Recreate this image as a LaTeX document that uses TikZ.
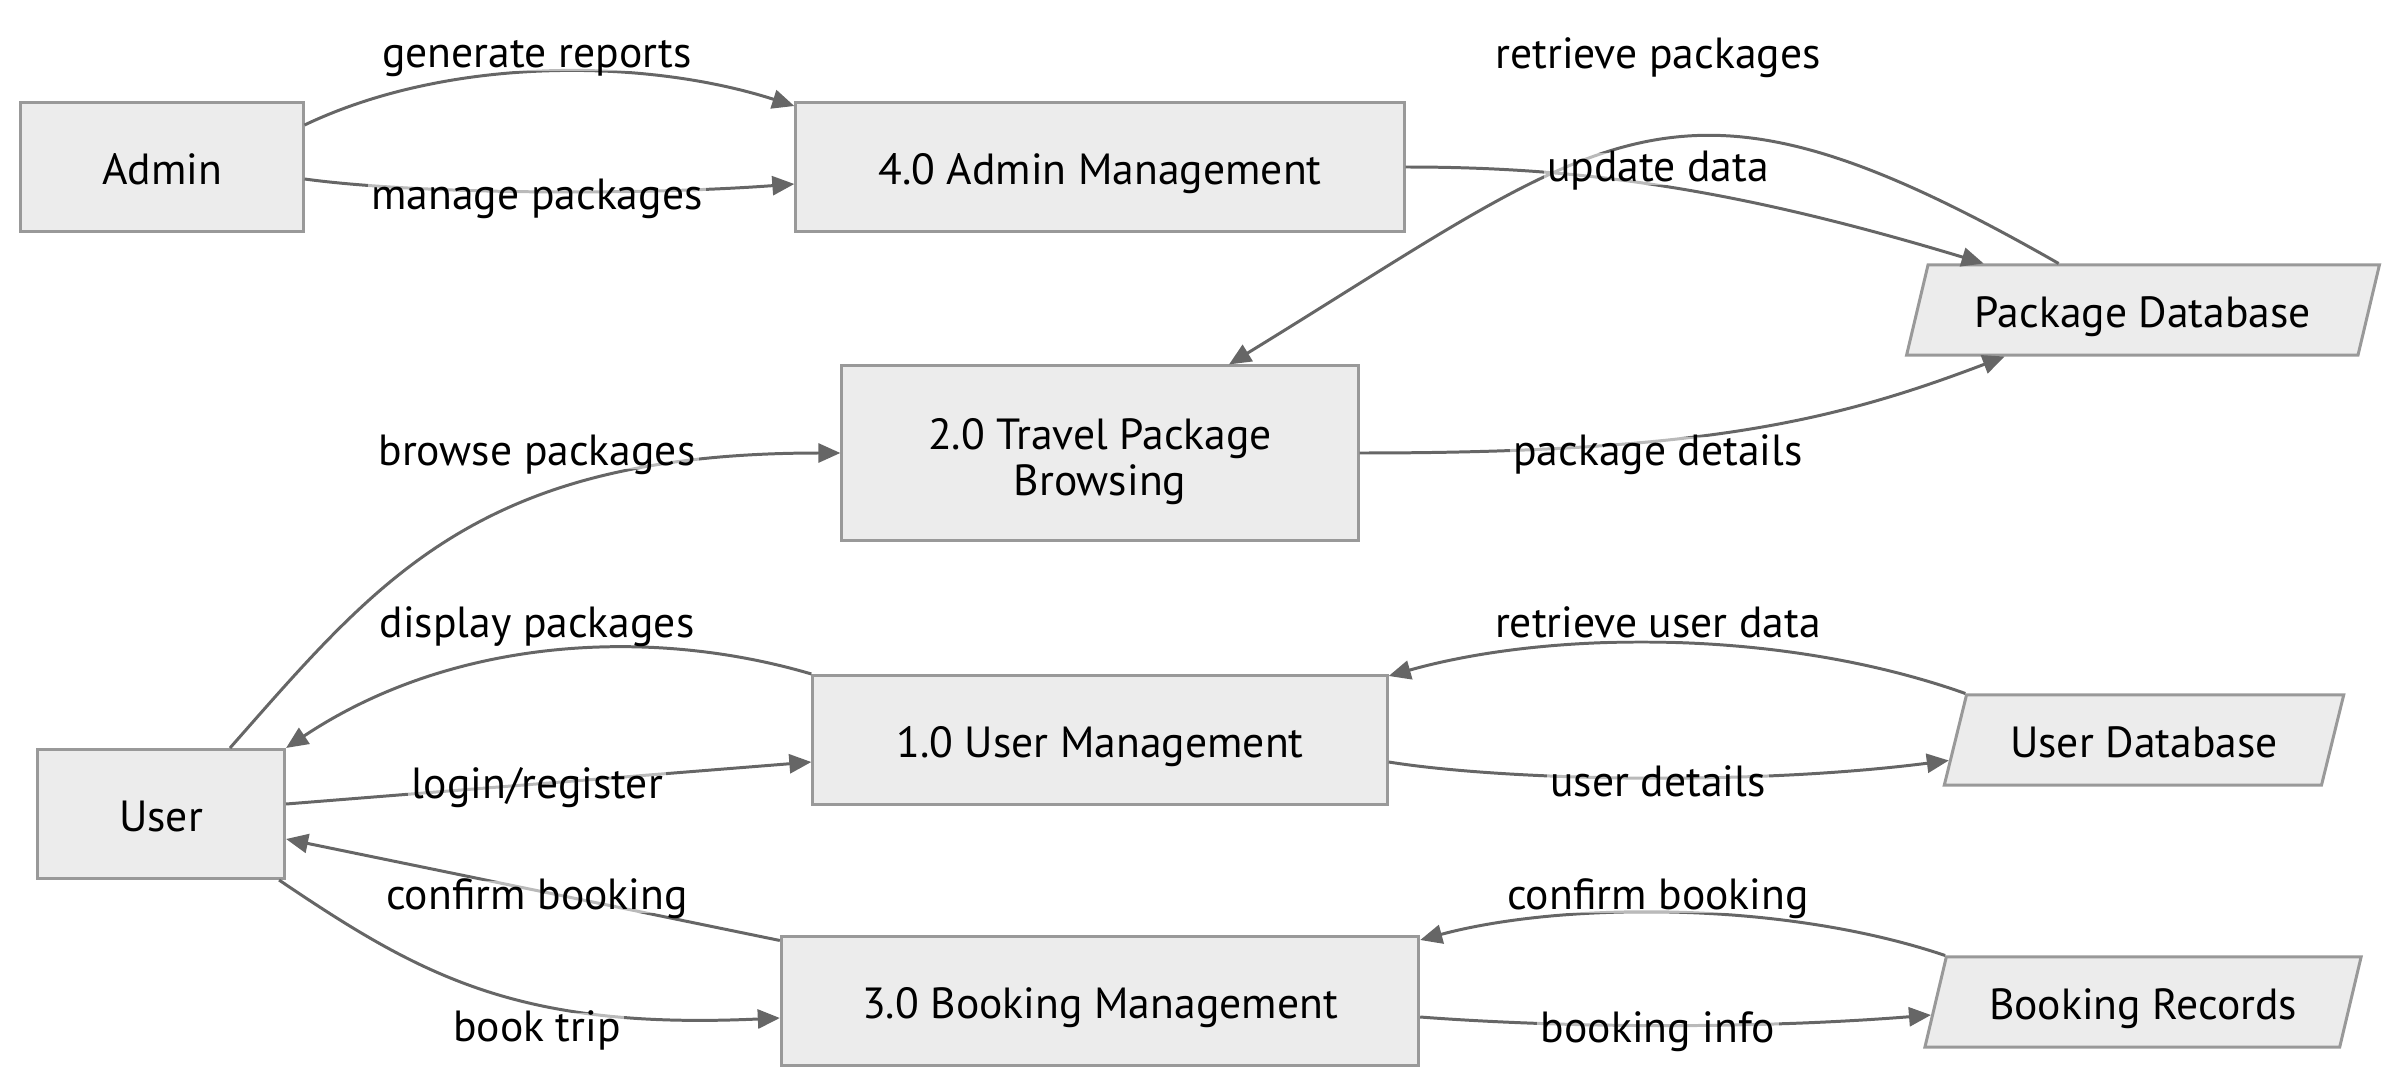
\documentclass[tikz,border=0pt]{standalone}
\usepackage{fontspec}
\setmainfont{PT Sans}
\usetikzlibrary{arrows.meta,shapes.geometric,calc}
\definecolor{boxfill}{HTML}{ECECEC}
\definecolor{boxline}{HTML}{999999}
\definecolor{flow}{HTML}{666666}
\begin{document}
\begin{tikzpicture}[x=0.01cm,y=-0.01cm,
    font=\fontsize{12.4}{13.6}\selectfont,
    proc/.style={draw=boxline,fill=boxfill,line width=0.85pt,inner sep=0pt,
      minimum height=1.28cm,text height=1.02em,text depth=0pt},
    store/.style={proc,shape=trapezium,trapezium left angle=65,
      trapezium right angle=115,trapezium stretches=true,minimum height=0.9cm},
    flowline/.style={draw=flow,line width=0.85pt,-{Triangle[length=0.22cm,width=0.19cm]}},
    lbl/.style={fill=white,fill opacity=0.55,text opacity=1,inner sep=1pt,
      text height=0.72em,text depth=0pt}]
  \useasboundingbox (0,0) rectangle (2400,1088);

  % Externe Einheiten
  \node[proc,minimum width=2.82cm] (admin) at (162,167) {Admin};
  \node[proc,minimum width=2.47cm,minimum height=1.29cm] (user) at (161,814) {User};

  % Prozesse
  \node[proc,minimum width=6.08cm] (am) at (1100,167) {4.0 Admin Management};
  \node[proc,minimum width=5.16cm,minimum height=1.74cm,
    label={[align=center,font=\fontsize{12.4}{13.04}\selectfont,yshift=-0.085cm]center:2.0 Travel Package\\Browsing}] (tpb) at (1100,453) {};
  \node[proc,minimum width=5.74cm,minimum height=1.29cm] (um) at (1100,740) {1.0 User Management};
  \node[proc,minimum width=6.37cm] (bm) at (1100,1001) {3.0 Booking Management};

  % Datenspeicher
  \node[store,minimum width=4.73cm] (pdb) at (2143,310) {Package Database};
  \node[store,minimum width=4.02cm] (udb) at (2144,740) {User Database};
  \node[store,minimum width=4.36cm] (br) at (2143,1002) {Booking Records};

  % Datenfluesse
  \draw[flowline] ($(admin.east)+(0,-42)$) .. controls +(147,-70) and +(-146,-47) .. ($(am.west)+(0,-61)$);
  \draw[flowline] ($(admin.east)+(0,12)$) .. controls +(117,16) and +(-146,11) .. ($(am.west)+(0,17)$);
  \draw[flowline] (am.east) .. controls +(176,0) and +(-248,-75) .. ($(pdb.top left corner)!0.125!(pdb.top right corner)$);
  \draw[flowline] ($(pdb.top left corner)!0.29!(pdb.top right corner)$) .. controls +(-385,-220) and +(385,-236) .. ($(tpb.north)+(129,0)$);
  \draw[flowline] (tpb.east) .. controls +(342,0) and +(-171,65) .. ($(pdb.bottom left corner)!0.22!(pdb.bottom right corner)$);
  \draw[flowline] ($(user.north)+(69,0)$) .. controls +(150,-170) and +(-362,0) .. (tpb.west);
  \draw[flowline] (um.north west) .. controls +(-163,-48) and +(165,-110) .. (user.north east);
  \draw[flowline] ($(user.east)+(0,-10)$) -- ($(um.west)+(0,22)$);
  \draw[flowline] ($(bm.north west)+(0,5)$) -- ($(user.east)+(0,25)$);
  \draw[flowline] ($(user.south east)+(-7,0)$) .. controls +(142,96) and +(-262,12) .. ($(bm.west)+(0,17)$);
  \draw[flowline] (udb.top left corner) .. controls +(-183,-65) and +(163,-46) .. ($(um.east)+(0,-64)$);
  \draw[flowline] ($(um.east)+(0,22)$) .. controls +(113,18) and +(-204,26) .. ($(udb.bottom left corner)!0.28!(udb.top left corner)$);
  \draw[flowline] (br.top left corner) .. controls +(-163,-55) and +(141,-38) .. ($(bm.east)+(0,-61)$);
  \draw[flowline] ($(bm.east)+(0,16)$) .. controls +(131,10) and +(-189,15) .. ($(br.bottom left corner)!0.36!(br.top left corner)$);

  % Beschriftungen
  \node[lbl] (lgen) at (537,55) {generate reports};
  \node[lbl] (lman) at (537,197) {manage packages};
  \node[lbl] (lret) at (1658,56) {retrieve packages};
  \node[lbl] (lupd) at (1658,169) {update data};
  \node[lbl] (lbro) at (537,453) {browse packages};
  \node[lbl] (lpkg) at (1658,453) {package details};
  \node[lbl] (ldis) at (537,625) {display packages};
  \node[lbl] (lrud) at (1658,625) {retrieve user data};
  \node[lbl] (llog) at (537,786) {login/register};
  \node[lbl] (lusr) at (1658,784) {user details};
  \node[lbl] (lcbu) at (537,897) {confirm booking};
  \node[lbl] (lcbb) at (1658,897) {confirm booking};
  \node[lbl] (lbook) at (537,1029) {book trip};
  \node[lbl] (lbinf) at (1658,1030) {booking info};
\end{tikzpicture}
\end{document}
